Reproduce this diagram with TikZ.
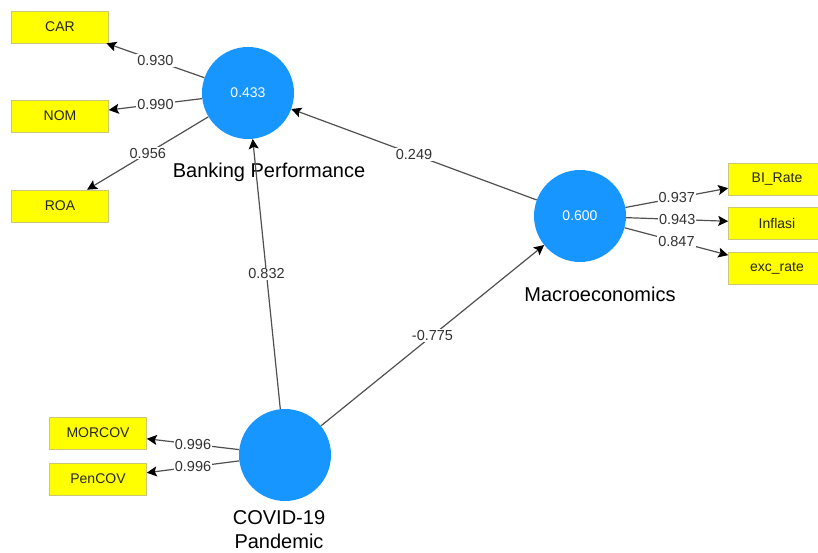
\documentclass[tikz,border=0pt]{standalone}
\usepackage{fontspec}
\setmainfont{Liberation Sans}
\usetikzlibrary{arrows.meta,positioning}
\definecolor{lvblue}{RGB}{24,150,255}
\definecolor{indyellow}{RGB}{255,255,0}
\definecolor{indedge}{RGB}{200,200,120}
\definecolor{pathgray}{RGB}{80,80,80}
\tikzstyle{latent}=[circle, fill=lvblue, text=white, inner sep=0pt, minimum size=92pt, font=\fontsize{14}{16}\selectfont]
\tikzstyle{indicator}=[rectangle, fill=indyellow, draw=indedge, line width=0.6pt, minimum width=97pt, minimum height=32pt, inner sep=0pt, text=black!85, font=\fontsize{14}{16}\selectfont]
\tikzstyle{loading}=[draw=pathgray, line width=1.2pt, -{Stealth[length=10pt,width=10pt,inset=2pt,black]}]
\tikzstyle{coef}=[fill=white, inner sep=1pt, text=black!80, font=\fontsize{14.5}{16}\selectfont]
\tikzstyle{lvname}=[font=\fontsize{20}{24}\selectfont, align=center, inner sep=0pt, text=black]
\newcommand{\latent}{\node[latent]}
\newcommand{\indicator}{\node[indicator]}

\begin{document}
\begin{tikzpicture}[x=1pt, y=-1pt]
            \useasboundingbox[fill=white] (0,0) rectangle (818,553);
            % latent variables
            \latent (bp) at (248,93) [label={[lvname, label distance=24pt, xshift=21pt]below:Banking Performance}]{0.433};
            \latent (mac) at (580,216) [label={[lvname, label distance=25pt, xshift=20pt]below:Macroeconomics}]{0.600};
            \latent (cov) at (285,455) [label={[lvname, label distance=9pt, xshift=-6pt]below:COVID-19\\Pandemic}]{};
            % indicators
            \indicator (car) at (60,27) {CAR};
            \indicator (nom) at (60,116) {NOM};
            \indicator (roa) at (60,206) {ROA};
            \indicator (bir) at (777,179) {BI\_Rate};
            \indicator (inf) at (777,223) {Inflasi};
            \indicator (exc) at (777,268) {exc\_rate};
            \indicator (mor) at (98,433) {MORCOV};
            \indicator (pen) at (98,479) {PenCOV};
            \path 
                (bp) edge[loading] node[coef]{0.930} (car)
                (bp) edge[loading] node[coef]{0.990} (nom)
                (bp) edge[loading] node[coef]{0.956} (roa)
                (mac) edge[loading] node[coef]{0.937} (bir)
                (mac) edge[loading] node[coef]{0.943} (inf)
                (mac) edge[loading] node[coef]{0.847} (exc)
                (cov) edge[loading] node[coef]{0.996} (mor)
                (cov) edge[loading] node[coef]{0.996} (pen)
                (mac) edge[loading] node[coef]{0.249} (bp)
                (cov) edge[loading] node[coef]{0.832} (bp)
                (cov) edge[loading] node[coef]{-0.775} (mac)
            ;
        \end{tikzpicture}
\end{document}
